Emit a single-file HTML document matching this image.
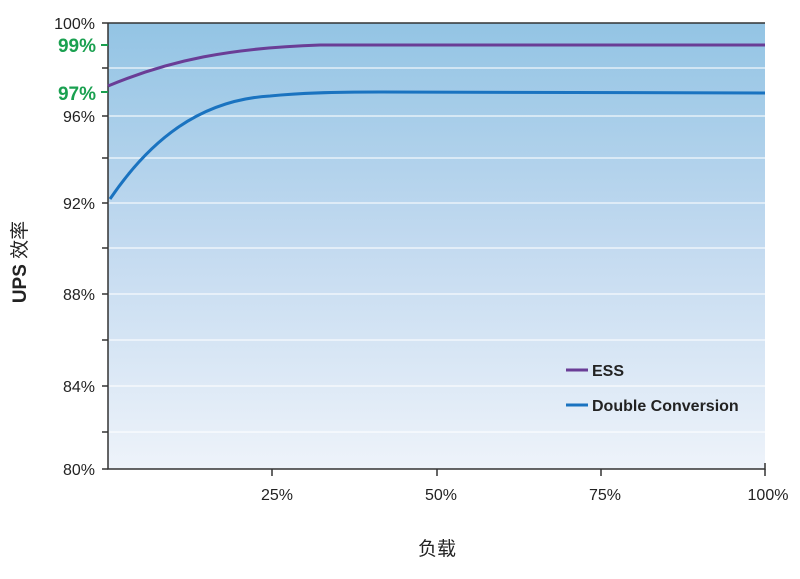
<!DOCTYPE html>
<html><head><meta charset="utf-8"><style>
body{margin:0;background:#fff;}
</style></head><body>
<svg width="800" height="574" xmlns="http://www.w3.org/2000/svg" font-family="Liberation Sans, Noto Sans CJK SC, sans-serif">
<defs><linearGradient id="g" x1="0" y1="0" x2="0" y2="1">
<stop offset="0" stop-color="#93c4e4"/><stop offset="0.5" stop-color="#c3daf0"/><stop offset="1" stop-color="#eef3fa"/></linearGradient></defs>
<rect x="108" y="23" width="657" height="446" fill="url(#g)"/>
<g stroke="#fff" stroke-width="1.2" opacity="0.85">
<line x1="108" x2="765" y1="68" y2="68"/><line x1="108" x2="765" y1="116" y2="116"/>
<line x1="108" x2="765" y1="158" y2="158"/><line x1="108" x2="765" y1="203" y2="203"/>
<line x1="108" x2="765" y1="248" y2="248"/><line x1="108" x2="765" y1="294" y2="294"/>
<line x1="108" x2="765" y1="340" y2="340"/><line x1="108" x2="765" y1="386" y2="386"/>
<line x1="108" x2="765" y1="432" y2="432"/></g>
<g stroke="#333" stroke-width="1.5" fill="none">
<polyline points="108,23 765,23"/><polyline points="108,23 108,469 765,469 765,463"/>
<line x1="102" x2="108" y1="23" y2="23"/><line x1="102" x2="108" y1="68" y2="68"/>
<line x1="102" x2="108" y1="116" y2="116"/><line x1="102" x2="108" y1="158" y2="158"/>
<line x1="102" x2="108" y1="203" y2="203"/><line x1="102" x2="108" y1="248" y2="248"/>
<line x1="102" x2="108" y1="294" y2="294"/><line x1="102" x2="108" y1="340" y2="340"/>
<line x1="102" x2="108" y1="386" y2="386"/><line x1="102" x2="108" y1="432" y2="432"/>
<line x1="102" x2="108" y1="469" y2="469"/>
<line x1="272" x2="272" y1="469" y2="476"/><line x1="437" x2="437" y1="469" y2="476"/>
<line x1="601" x2="601" y1="469" y2="476"/><line x1="765" x2="765" y1="469" y2="476"/>
</g>
<g stroke="#1aa050" stroke-width="2"><line x1="101" x2="108" y1="45" y2="45"/><line x1="101" x2="108" y1="92" y2="92"/></g>
<path d="M108,86 C170,60 230,48 320,45 L765,45" stroke="#6a3d96" stroke-width="3" fill="none"/>
<path d="M110,199 C150,140 200,100 270,96 C300,93 330,92 380,92 L765,93" stroke="#1a73c0" stroke-width="3" fill="none"/>
<g font-size="16" fill="#222" text-anchor="end">
<text x="95" y="29">100%</text><text x="95" y="122">96%</text><text x="95" y="209">92%</text>
<text x="95" y="300">88%</text><text x="95" y="392">84%</text><text x="95" y="475">80%</text></g>
<g font-size="19" font-weight="bold" fill="#1aa050" text-anchor="end">
<text x="96" y="52">99%</text><text x="96" y="100">97%</text></g>
<g font-size="16" fill="#222" text-anchor="middle">
<text x="277" y="500">25%</text><text x="441" y="500">50%</text><text x="605" y="500">75%</text><text x="768" y="500">100%</text></g>
<text x="437" y="555" font-size="19" fill="#222" text-anchor="middle">负载</text>
<text transform="translate(26,262) rotate(-90)" font-size="19" fill="#222" text-anchor="middle"><tspan font-weight="bold">UPS</tspan> 效率</text>
<line x1="566" x2="588" y1="370" y2="370" stroke="#6a3d96" stroke-width="3"/>
<line x1="566" x2="588" y1="405" y2="405" stroke="#1a73c0" stroke-width="3"/>
<g font-size="16" font-weight="bold" fill="#222"><text x="592" y="376">ESS</text><text x="592" y="411">Double Conversion</text></g>
</svg>
</body></html>
